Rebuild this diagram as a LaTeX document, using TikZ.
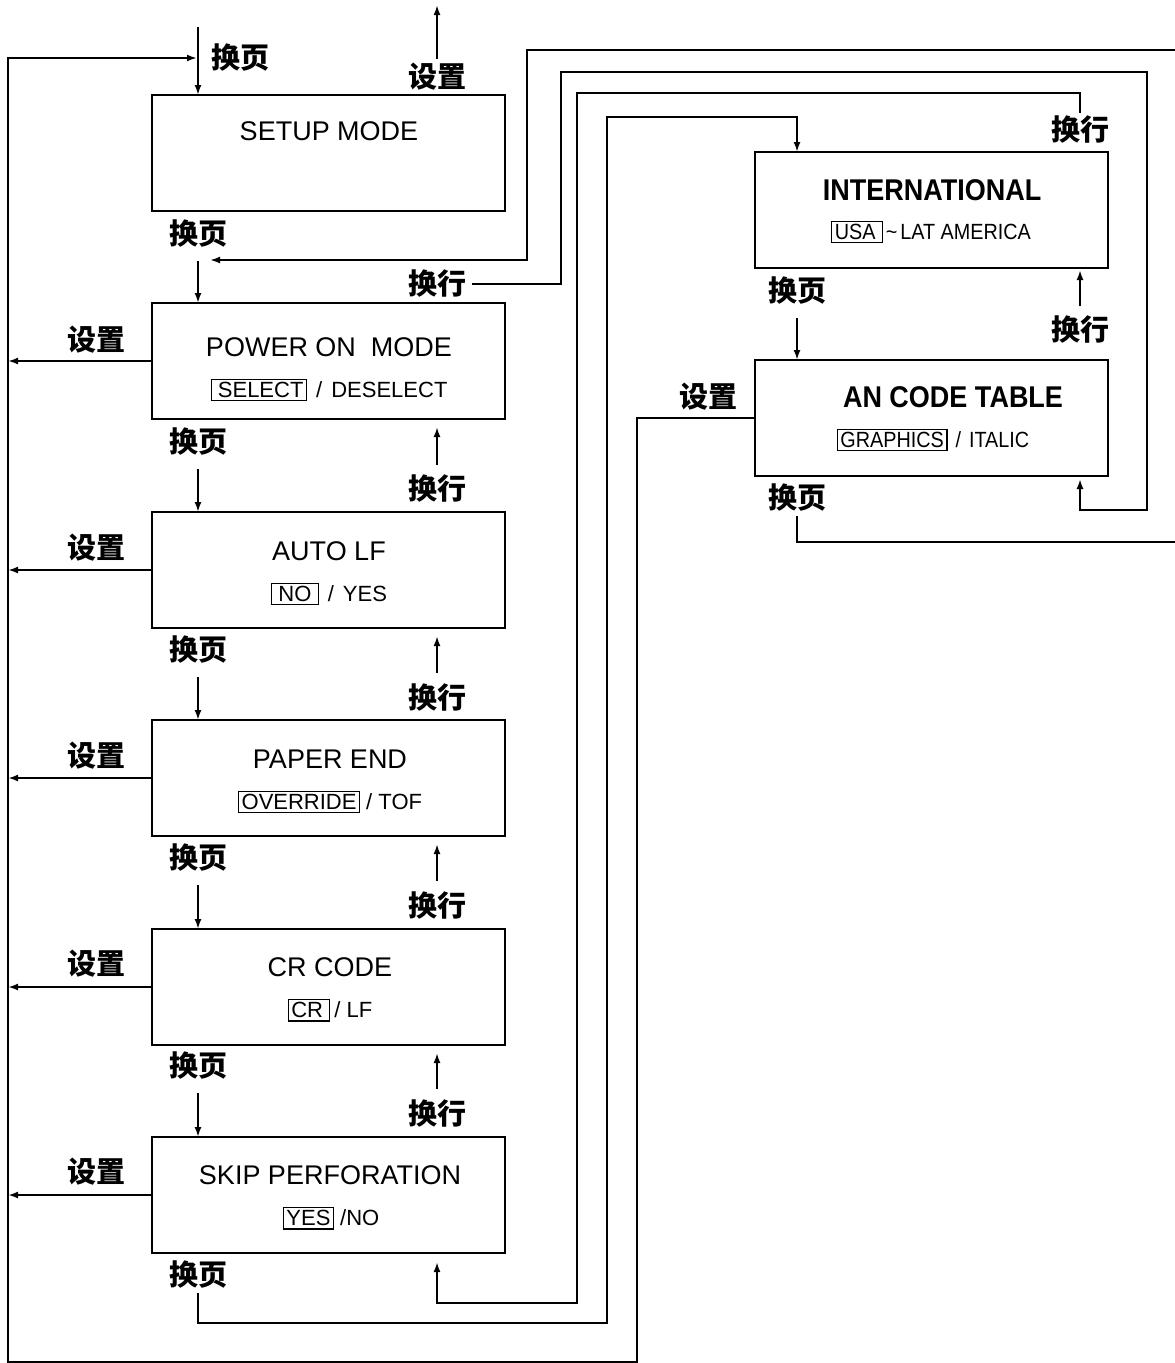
\documentclass[tikz,border=0pt]{standalone}
\usepackage{fontspec}
\setmainfont{Liberation Sans}
\newfontfamily\cjk{Noto Sans CJK SC}
\newfontfamily\cond[FakeStretch=0.9]{Liberation Sans}
\usetikzlibrary{arrows.meta}
\setlength{\fboxsep}{2.5pt}
\setlength{\fboxrule}{1.2pt}
\tikzset{
  box/.style={draw, line width=2.6pt, inner sep=0pt, outer sep=0pt, minimum width=353pt, minimum height=116pt, anchor=north west},
  lbl/.style={font=\cjk\bfseries\fontsize{29}{29}\selectfont, inner sep=0pt},
  ttl/.style={font=\fontsize{27}{27}\selectfont, inner sep=0pt, text depth=0pt},
  rttl/.style={font=\cond\bfseries\fontsize{30}{30}\selectfont, inner sep=0pt, text depth=0pt},
  opt/.style={font=\fontsize{22}{22}\selectfont, inner sep=0pt},
  ropt/.style={font=\cond\fontsize{22}{22}\selectfont, inner sep=0pt},
  wire/.style={line width=2.2pt},
  arr/.style={wire, -{Latex[length=10pt,width=7pt]}},
}
\begin{document}
\begin{tikzpicture}[x=1pt,y=-1pt]
\useasboundingbox[fill=white] (0,0) rectangle (1175,1363);

% ---------- left column boxes ----------
\node[box] (setup) at (152,95) {};
\node[box] (power) at (152,303) {};
\node[box] (auto)  at (152,512) {};
\node[box] (paper) at (152,720) {};
\node[box] (cr)    at (152,929) {};
\node[box] (skip)  at (152,1137) {};
% ---------- right column boxes ----------
\node[box] (intl) at (755,152) {};
\node[box] (an)   at (755,360) {};

% ---------- box texts ----------
\node[ttl] (setupT) at (329,131) {SETUP MODE};
\node[ttl] (powerT) at (329,347) {POWER ON\ \ MODE};
\node[opt] (powerO) at (329,390) {\fbox{\,SELECT}\hspace{9pt}/\hspace{9pt}DESELECT};
\node[ttl] (autoT) at (329,551) {AUTO LF};
\node[opt] (autoO) at (329,594) {\fbox{\,NO\,}\hspace{9pt}/\hspace{9pt}YES};
\node[ttl] (paperT) at (330,759) {PAPER END};
\node[opt] (paperO) at (330,802) {\fbox{OVERRIDE}\hspace{6pt}/ TOF};
\node[ttl] (crT) at (330,967) {CR CODE};
\node[opt] (crO) at (330,1010) {\fbox{CR\,}\hspace{4pt}/ LF};
\node[ttl] (skipT) at (330,1175) {SKIP PERFORATION};
\node[opt] (skipO) at (331,1218) {\fbox{YES}\hspace{6pt}/NO};
\node[rttl] (intlT) at (932,190) {INTERNATIONAL};
\node[ropt] (intlO) at (931,232) {\fbox{USA\,}\hspace{3pt}\char"007E\hspace{3pt}LAT AMERICA};
\node[rttl] (anT) at (953,397) {AN CODE TABLE};
\node[ropt] (anO) at (933,440) {\fbox{GRAPHICS}\hspace{8pt}/\hspace{8pt}ITALIC};

% ---------- labels ----------
\node[lbl] (fp0) at (240,58) {换页};
\node[lbl] (sz0) at (437,77) {设置};
\node[lbl] (fp1) at (198,234) {换页};
\node[lbl] (fp2) at (198,442) {换页};
\node[lbl] (fp3) at (198,650) {换页};
\node[lbl] (fp4) at (198,858) {换页};
\node[lbl] (fp5) at (198,1066) {换页};
\node[lbl] (fp6) at (198,1275) {换页};
\node[lbl] (hh1) at (437,284) {换行};
\node[lbl] (hh2) at (437,489) {换行};
\node[lbl] (hh3) at (437,697) {换行};
\node[lbl] (hh4) at (437,905) {换行};
\node[lbl] (hh5) at (437,1113) {换行};
\node[lbl] (sz1) at (96,340) {设置};
\node[lbl] (sz2) at (96,548) {设置};
\node[lbl] (sz3) at (96,756) {设置};
\node[lbl] (sz4) at (96,964) {设置};
\node[lbl] (sz5) at (96,1172) {设置};
\node[lbl] (hhI) at (1080,130) {换行};
\node[lbl] (fpI) at (797,291) {换页};
\node[lbl] (hhA) at (1080,330) {换行};
\node[lbl] (szA) at (708,397) {设置};
\node[lbl] (fpA) at (797,498) {换页};

% ---------- free ends ----------
\coordinate (topin)  at (198,27);
\coordinate (topout) at (437,5);
\coordinate (join)   at (197,58);
\coordinate (bus)    at (8,0);
\coordinate (edge1)  at (1175,50);
\coordinate (edge2)  at (1175,542);
\coordinate (tip1)   at (210,260);

% ---------- top entry / exit ----------
\draw[arr] (topin) -- ([xshift=46pt]setup.north west);
\draw[arr] ([yshift=4pt]sz0.north) -- (topout);

% ---------- 换页 (down) ----------
\draw[arr] ([yshift=-13pt]fp1.south) -- ([xshift=46pt]power.north west);
\draw[arr] ([yshift=-13pt]fp2.south) -- ([xshift=46pt]auto.north west);
\draw[arr] ([yshift=-13pt]fp3.south) -- ([xshift=46pt]paper.north west);
\draw[arr] ([yshift=-13pt]fp4.south) -- ([xshift=46pt]cr.north west);
\draw[arr] ([yshift=-13pt]fp5.south) -- ([xshift=46pt]skip.north west);
\draw[arr] ([yshift=-13pt]fpI.south) -- ([xshift=42pt]an.north west);

% ---------- 换行 (up) ----------
\draw[arr] ([yshift=10pt]hh2.north) -- ([xshift=-68pt,yshift=-8pt]power.south east);
\draw[arr] ([yshift=10pt]hh3.north) -- ([xshift=-68pt,yshift=-8pt]auto.south east);
\draw[arr] ([yshift=10pt]hh4.north) -- ([xshift=-68pt,yshift=-8pt]paper.south east);
\draw[arr] ([yshift=10pt]hh5.north) -- ([xshift=-68pt,yshift=-8pt]cr.south east);
\draw[arr] ([yshift=10pt]hhA.north) -- ([xshift=-28pt,yshift=-2pt]intl.south east);

% ---------- 设置 (left) ----------
\draw[arr] (power.west) -- (power.west -| bus);
\draw[arr] (auto.west)  -- (auto.west -| bus);
\draw[arr] (paper.west) -- (paper.west -| bus);
\draw[arr] (cr.west)    -- (cr.west -| bus);
\draw[arr] (skip.west)  -- (skip.west -| bus);

% ---------- long loops ----------
\draw[arr] (an.west) -- (637,418) -- (637,1362) -- (8,1362) -- (8,58) -- (join);
\draw[arr] (edge1) -- (527,50) -- (527,260) -- (tip1);
\draw[arr] ([xshift=6pt]hh1.east) -- (561,284) -- (561,72) -- (1147,72) -- (1147,510) -- (1080,510) -- ([xshift=-28pt,yshift=-3pt]an.south east);
\draw[arr] ([yshift=3pt]hhI.north) -- (1080,93) -- (577,93) -- (577,1303) -- (437,1303) -- ([xshift=-68pt,yshift=-9pt]skip.south east);
\draw[arr] ([yshift=-4pt]fp6.south) -- (198,1323) -- (607,1323) -- (607,117) -- (797,117) -- ([xshift=42pt]intl.north west);
\draw[wire] ([yshift=-4pt]fpA.south) -- (797,542) -- (edge2);
\end{tikzpicture}
\end{document}
